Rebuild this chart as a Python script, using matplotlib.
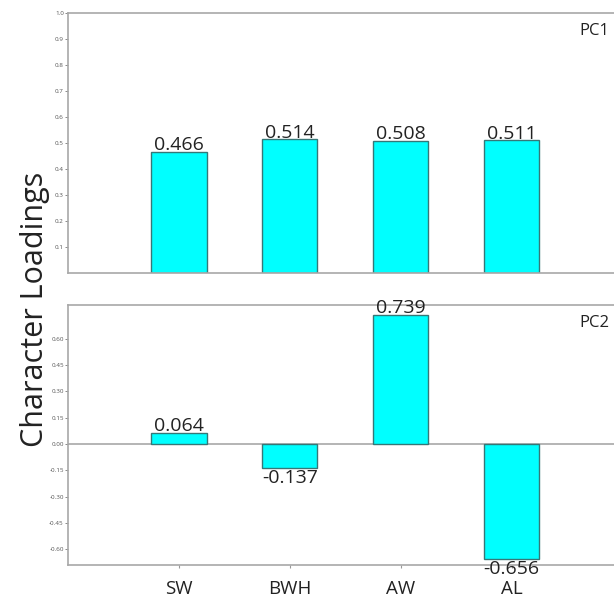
import matplotlib

matplotlib.use("Agg")
import matplotlib.pyplot as plt
from matplotlib.ticker import FormatStrFormatter

plt.rcParams["font.family"] = ["Open Sans", "DejaVu Sans"]

characters = ["SW", "BWH", "AW", "AL"]
pc1_loadings = [0.466, 0.514, 0.508, 0.511]
pc2_loadings = [0.064, -0.137, 0.739, -0.656]
pc1_ticks = [0.1, 0.2, 0.3, 0.4, 0.5, 0.6, 0.7, 0.8, 0.9, 1.0]
pc2_ticks = [-0.60, -0.45, -0.30, -0.15, 0.00, 0.15, 0.30, 0.45, 0.60]

BAR_FACE = "#00ffff"
BAR_EDGE = "#357777"
SPINE = "#a8a8a8"

fig = plt.figure(figsize=(6.14, 6.01), dpi=100)
ax1 = fig.add_axes([0.1107, 0.5458, 0.8958, 0.4326])
ax2 = fig.add_axes([0.1107, 0.0599, 0.8958, 0.4326])

x = list(range(1, len(characters) + 1))


def style_axis(ax):
    for side in ("left", "top", "bottom"):
        ax.spines[side].set_color(SPINE)
        ax.spines[side].set_linewidth(1.2)
    ax.spines["right"].set_visible(False)
    ax.tick_params(axis="y", labelsize=4.5, labelcolor="#555555", color="#777777",
                   length=2, width=0.6, pad=1)
    ax.set_xlim(0, 4.96)


# PC1
ax1.bar(x, pc1_loadings, width=0.5, color=BAR_FACE, edgecolor=BAR_EDGE, linewidth=1)
ax1.set_ylim(0, 1.0)
ax1.set_yticks(pc1_ticks)
ax1.yaxis.set_major_formatter(FormatStrFormatter("%.1f"))
ax1.set_xticks([])
style_axis(ax1)
for xi, v in zip(x, pc1_loadings):
    ax1.text(xi, v + 0.006, f"{v:.3f}", ha="center", va="baseline", fontsize=14, color="#222222")
ax1.text(0.985, 0.962, "PC1", transform=ax1.transAxes, ha="right", va="top", fontsize=12,
         color="#222222")

# PC2
ax2.bar(x, pc2_loadings, width=0.5, color=BAR_FACE, edgecolor=BAR_EDGE, linewidth=1)
ax2.axhline(0, color=SPINE, linewidth=1.2, zorder=0)
ax2.set_ylim(-0.691, 0.794)
ax2.set_yticks(pc2_ticks)
ax2.yaxis.set_major_formatter(FormatStrFormatter("%.2f"))
ax2.set_xticks(x)
ax2.set_xticklabels(characters, fontsize=13.5, color="#222222")
ax2.tick_params(axis="x", length=2, color="#999999", pad=9)
style_axis(ax2)
for xi, v in zip(x, pc2_loadings):
    if v >= 0:
        ax2.text(xi, v + 0.009, f"{v:.3f}", ha="center", va="baseline", fontsize=14, color="#222222")
    else:
        ax2.text(xi, v - 0.004, f"{v:.3f}", ha="center", va="top", fontsize=14, color="#222222")
ax2.text(0.985, 0.962, "PC2", transform=ax2.transAxes, ha="right", va="top", fontsize=12,
         color="#222222")

fig.text(0.057, 0.485, "Character Loadings", rotation=90, ha="center", va="center",
         fontsize=22, color="#222222")

fig.savefig("out.png", dpi=100)
